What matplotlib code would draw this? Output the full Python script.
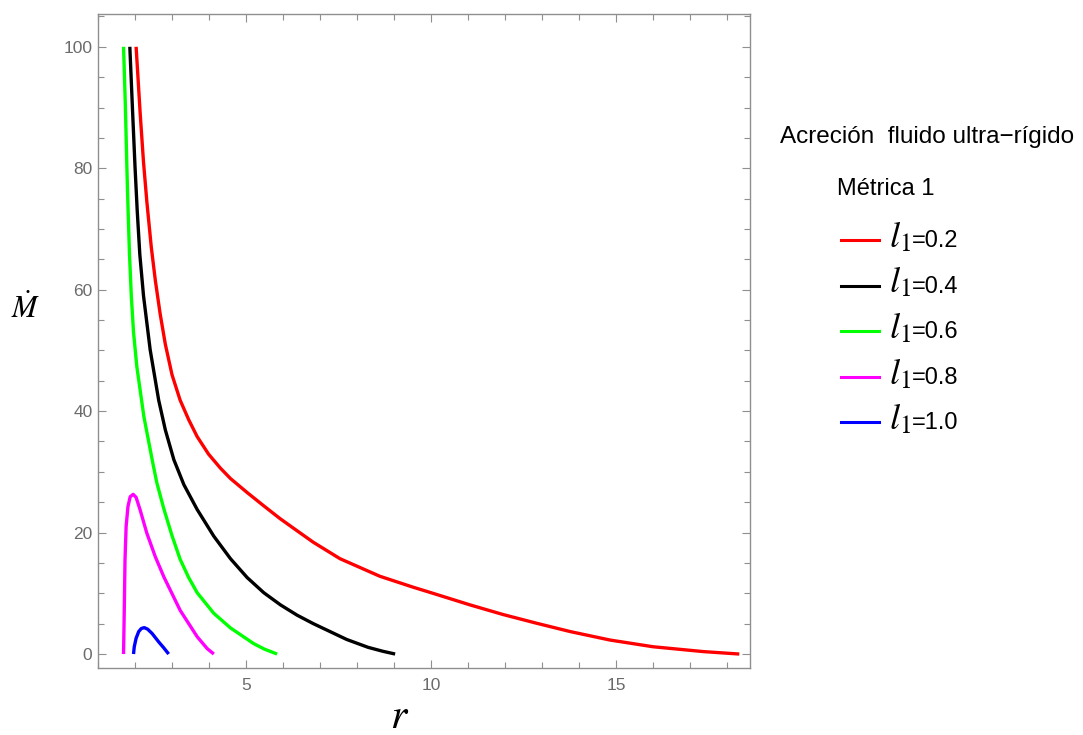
import numpy as np
import matplotlib
matplotlib.use('Agg')
import matplotlib.pyplot as plt
from matplotlib.lines import Line2D
from matplotlib.ticker import MultipleLocator

plt.rcParams['font.family'] = ['Liberation Sans', 'DejaVu Sans']
plt.rcParams['mathtext.fontset'] = 'stix'

# values: r and Mdot per curve
r_02 = [2.03, 2.14, 2.23, 2.32, 2.44, 2.55, 2.68, 2.82, 3.00, 3.22, 3.45, 3.68, 3.99, 4.31,
        4.58, 5.03, 5.48, 5.92, 6.38, 6.82, 7.54, 8.62, 9.52, 10.0, 11.05, 11.95, 12.86,
        13.76, 14.84, 16.0, 17.36, 18.33]
m_02 = [100, 89, 81, 74.5, 67, 61.5, 56, 51, 46, 41.8, 38.6, 35.8, 32.9, 30.6,
        28.9, 26.6, 24.4, 22.3, 20.3, 18.4, 15.7, 12.8, 11.0, 10.1, 8.1, 6.5, 5.06,
        3.7, 2.3, 1.2, 0.4, 0.0]

r_04 = [1.86, 1.93, 2.00, 2.06, 2.13, 2.23, 2.41, 2.64, 2.82, 3.05, 3.32, 3.68, 4.13, 4.58,
        5.03, 5.48, 5.93, 6.38, 6.82, 7.27, 7.72, 8.3, 8.7, 9.03]
m_04 = [100, 90, 80.3, 73, 65.8, 59.0, 50.1, 41.8, 36.9, 32.0, 27.9, 23.8, 19.4, 15.7,
        12.6, 10.1, 8.1, 6.4, 5.0, 3.7, 2.4, 1.1, 0.45, 0.0]

r_06 = [1.69, 1.74, 1.78, 1.81, 1.85, 1.90, 1.96, 2.05, 2.24, 2.48, 2.59, 2.78, 3.0, 3.22,
        3.45, 3.68, 4.13, 4.58, 5.21, 5.5, 5.84]
m_06 = [100, 90.2, 80.3, 73.7, 66, 59, 53, 47.3, 39.1, 31.5, 28.2, 23.9, 19.5, 15.6,
        12.6, 10.1, 6.7, 4.3, 1.7, 0.8, 0.0]

r_08 = [1.69, 1.71, 1.73, 1.76, 1.81, 1.87, 1.95, 2.03, 2.14, 2.32, 2.55, 2.78, 3.22,
        3.68, 3.95, 4.13]
m_08 = [0.0, 7.2, 15.5, 21.0, 24.3, 25.9, 26.3, 25.8, 23.7, 19.9, 16.0, 12.7, 7.2,
        2.85, 0.9, 0.0]

r_10 = [1.96, 1.98, 2.03, 2.10, 2.17, 2.25, 2.34, 2.46, 2.64, 2.78, 2.91]
m_10 = [0.0, 1.2, 2.6, 3.7, 4.2, 4.35, 4.1, 3.4, 2.0, 1.0, 0.0]

l_values = ['0.2', '0.4', '0.6', '0.8', '1.0']
colors = ['#ff0000', '#000000', '#00ff00', '#ff00ff', '#0000ff']
curves = [(r_02, m_02), (r_04, m_04), (r_06, m_06), (r_08, m_08), (r_10, m_10)]

W, H = 1083, 735
fig = plt.figure(figsize=(W / 100, H / 100), dpi=100)
ax = fig.add_axes([98 / W, 1 - 668 / H, (750 - 98) / W, (668 - 14) / H])

for (r, m), c in zip(curves, colors):
    ax.plot(r, m, color=c, lw=2.4, solid_capstyle='butt', solid_joinstyle='round')

ax.set_xlim(1.0, 18.62)
ax.set_ylim(-2.3, 105.4)
ax.set_xticks([5, 10, 15])
ax.set_yticks([0, 20, 40, 60, 80, 100])
ax.xaxis.set_minor_locator(MultipleLocator(1))
ax.yaxis.set_minor_locator(MultipleLocator(5))

frame_col = '#8f8f8f'
for s in ax.spines.values():
    s.set_color(frame_col)
    s.set_linewidth(1.0)
ax.tick_params(which='both', direction='in', top=True, right=True, color=frame_col,
               labelcolor='#6b6b6b', labelsize=12.5, width=0.8)
ax.tick_params(which='major', length=6)
ax.tick_params(which='minor', length=4)
ax.tick_params(axis='x', pad=7)
ax.tick_params(axis='y', pad=4)

# axis labels
fig.text(26 / W, 1 - 318 / H, r'$\dot{M}$', fontsize=22, ha='center', va='baseline')
fig.text(400 / W, 1 - 728 / H, r'$r$', fontsize=30, ha='center', va='baseline')

# legend block
fig.text(780 / W, 1 - 143 / H, 'Acreción  fluido ultra\u2212rígido', fontsize=17.5, va='baseline')
fig.text(837 / W, 1 - 195 / H, 'Métrica 1', fontsize=17, va='baseline')
y0, dy = 240, 45.6
for i, (lv, c) in enumerate(zip(l_values, colors)):
    yy = 1 - (y0 + i * dy) / H
    fig.add_artist(Line2D([841 / W, 879 / W], [yy, yy], transform=fig.transFigure,
                          color=c, lw=2.2))
    yb = 1 - (y0 + i * dy + 7) / H
    fig.text(889 / W, yb, r'$l_1$', fontsize=26, va='baseline')
    fig.text(912 / W, yb, '=' + lv, fontsize=17, va='baseline')

fig.savefig('out.png', dpi=100)
